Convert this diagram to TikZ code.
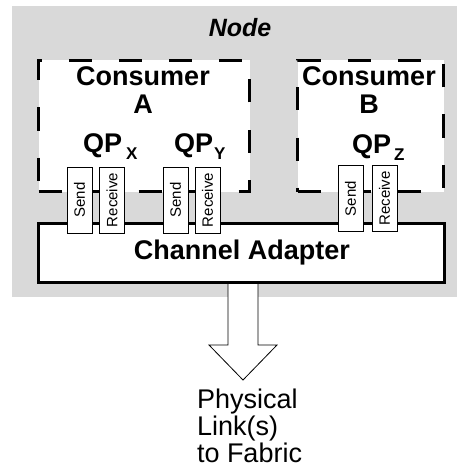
\documentclass[tikz,border=0pt]{standalone}
\usepackage{fontspec}
\setmainfont{Liberation Sans}
\usepackage{tikz}
\usetikzlibrary{positioning}
\definecolor{hostgray}{RGB}{217,217,217}

\begin{document}
\begin{tikzpicture}[x=1pt, y=-1pt,
	every node/.style={inner sep=0pt, outer sep=0pt},
	consumer/.style={draw, fill=white, line width=3pt, dash pattern=on 23pt off 27pt},
	adapter/.style={draw, fill=white, line width=3pt},
	queue/.style={draw, fill=white, line width=0.8pt, rotate=90, minimum width=66pt, minimum height=25pt, font=\fontsize{15}{15}\selectfont},
	big/.style={font=\bfseries\fontsize{27}{28}\selectfont},
	hollow/.style={draw, fill=white, line width=0.8pt}]
\useasboundingbox (0,0) rectangle (457,468);
\node[fill=hostgray, minimum width=445pt, minimum height=291pt] (host) at (234.5,151.5) {};
\node[font=\bfseries\itshape\fontsize{25}{25}\selectfont, anchor=base] (hostname) at (240,37) {Node};
\node[consumer, minimum width=211pt, minimum height=131pt] (consA) at (144,126) {};
\node[consumer, minimum width=146pt, minimum height=131pt] (consB) at (370.5,126) {};
\node[adapter, minimum width=406pt, minimum height=59pt] (adapter) at (241.5,253) {};
\node[big, align=center] (consAname) at (143,90) {Consumer\\A};
\node[big, align=center] (consBname) at (369,90) {Consumer\\B};
\node[big, anchor=base west] (qpX) at (83,152) {QP\hspace{4pt}\raisebox{-7pt}{\fontsize{17}{17}\selectfont X}};
\node[big, anchor=base west] (qpY) at (174,152) {QP\hspace{1pt}\raisebox{-7pt}{\fontsize{17}{17}\selectfont Y}};
\node[big, anchor=base west] (qpZ) at (352,153) {QP\hspace{3pt}\raisebox{-7pt}{\fontsize{17}{17}\selectfont Z}};
\node[big] (adaptername) at (242,253) {Channel Adapter};
% send and receive queues
\node[queue] (sendX) at (79.5,200) {Send};
\node[queue] (recvX) at (112,200) {Receive};
\node[queue] (sendY) at (175.5,200) {Send};
\node[queue] (recvY) at (207.5,200) {Receive};
\node[queue] (sendZ) at (350.5,198.5) {Send};
\node[queue] (recvZ) at (384.5,198.5) {Receive};
% link to fabric
\draw[hollow] ([xshift=-13.5pt,yshift=-1.5pt]adapter.south) -- ++(0,61) -- ++(-19,0) -- ++(34,35) -- ++(34,-35) -- ++(-19,0) -- ++(0,-61);
\node[font=\fontsize{27}{27}\selectfont, align=left, anchor=north west] (linkname) at (197,389) {Physical\\Link(s)\\to Fabric};
\end{tikzpicture}
\end{document}
